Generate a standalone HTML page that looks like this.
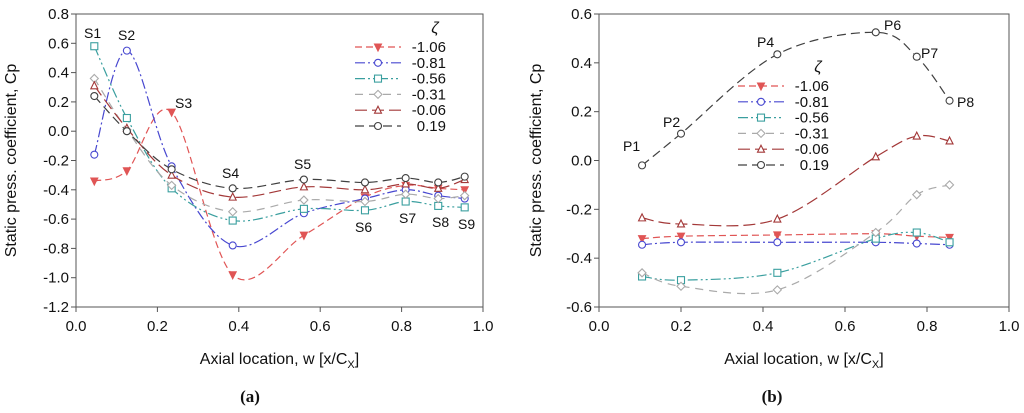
<!DOCTYPE html>
<html><head><meta charset="utf-8"><style>
body{margin:0;background:#fff;}
svg{display:block;font-family:"Liberation Sans",sans-serif;}
</style></head><body>
<svg id="s" width="1024" height="413" viewBox="0 0 1024 413"></svg>
<script>
const seriesNames=["-1.06","-0.81","-0.56","-0.31","-0.06","0.19"];
const colors=["#e05555","#4848d0","#3a9f9f","#aaaaaa","#a33838","#404040"];
const dashes=["7,4","10,3,2,3","10,3,2,3,2,3","8,6","12,5","9,5"];
const markers=["tri-down","circle","square","diamond","triangle","circle"];
const xA=[0.045,0.125,0.235,0.385,0.56,0.71,0.81,0.89,0.955];
const yA=[
[-0.34,-0.27,0.13,-0.98,-0.71,-0.45,-0.37,-0.39,-0.40],
[-0.16,0.55,-0.24,-0.78,-0.56,-0.46,-0.40,-0.44,-0.46],
[0.58,0.09,-0.39,-0.61,-0.53,-0.54,-0.48,-0.51,-0.52],
[0.36,0.01,-0.37,-0.55,-0.47,-0.48,-0.43,-0.46,-0.44],
[0.31,0.02,-0.30,-0.45,-0.38,-0.40,-0.36,-0.39,-0.33],
[0.24,0.00,-0.26,-0.39,-0.33,-0.35,-0.32,-0.35,-0.31]];
const xB=[0.105,0.2,0.435,0.675,0.775,0.855];
const yB=[
[-0.32,-0.31,-0.305,-0.30,-0.31,-0.315],
[-0.345,-0.335,-0.335,-0.335,-0.34,-0.345],
[-0.475,-0.49,-0.46,-0.32,-0.295,-0.335],
[-0.46,-0.515,-0.53,-0.295,-0.14,-0.10],
[-0.235,-0.26,-0.24,0.015,0.10,0.08],
[-0.02,0.11,0.435,0.525,0.425,0.245]];
const xTicks=["0.0","0.2","0.4","0.6","0.8","1.0"];
const yTicksA=["0.8","0.6","0.4","0.2","0.0","-0.2","-0.4","-0.6","-0.8","-1.0","-1.2"];
const yTicksB=["0.6","0.4","0.2","0.0","-0.2","-0.4","-0.6"];

const NS="http://www.w3.org/2000/svg";
const svg=document.getElementById('s');
function mk(t,a,p){const e=document.createElementNS(NS,t);for(const k in a)e.setAttribute(k,a[k]);(p||svg).appendChild(e);return e;}
function txt(x,y,s,o,p){const e=mk('text',Object.assign({x:x,y:y,'font-size':15,fill:'#111'},o||{}),p);e.textContent=s;return e;}
function spline(pts){let d=`M${pts[0][0]},${pts[0][1]}`;for(let i=0;i<pts.length-1;i++){const p0=pts[Math.max(0,i-1)],p1=pts[i],p2=pts[i+1],p3=pts[Math.min(pts.length-1,i+2)];d+=` C${p1[0]+(p2[0]-p0[0])/6},${p1[1]+(p2[1]-p0[1])/6} ${p2[0]-(p3[0]-p1[0])/6},${p2[1]-(p3[1]-p1[1])/6} ${p2[0]},${p2[1]}`;}return d;}
function marker(g,type,x,y,c){const r=3.5;const o={fill:'#fff',stroke:c,'stroke-width':1.1};let e;
 if(type==='circle')e=mk('circle',Object.assign({cx:x,cy:y,r:r},o),g);
 else if(type==='square')e=mk('rect',Object.assign({x:x-r,y:y-r,width:2*r,height:2*r},o),g);
 else if(type==='diamond')e=mk('polygon',Object.assign({points:`${x},${y-r-0.5} ${x+r+0.5},${y} ${x},${y+r+0.5} ${x-r-0.5},${y}`},o),g);
 else if(type==='triangle')e=mk('polygon',Object.assign({points:`${x},${y-r-0.5} ${x+r},${y+r-0.5} ${x-r},${y+r-0.5}`},o),g);
 else e=mk('polygon',Object.assign({points:`${x},${y+r+0.5} ${x+r},${y-r+0.5} ${x-r},${y-r+0.5}`},o,{fill:c}),g);
 
 }
function panel(name,x0,x1,y0,y1,ymax,ymin,yTicks,xs,ys,labels,legX,legY,ylx){
 const g=mk('g',{});
 
 
 const X=v=>x0+(x1-x0)*v, Y=v=>y0+(y1-y0)*(ymax-v)/(ymax-ymin);
 const fr=mk('rect',{x:x0,y:y0,width:x1-x0,height:y1-y0,fill:'none',stroke:'#555','stroke-width':1},g);
 
 
 xTicks.forEach(t=>{const v=parseFloat(t),x=X(v);mk('line',{x1:x,x2:x,y1:y1,y2:y1+5,stroke:'#555'},g);
  const e=txt(x,y1+24,t,{'text-anchor':'middle'},g);
  
  });
 yTicks.forEach(t=>{const v=parseFloat(t),y=Y(v);mk('line',{x1:x0-5,x2:x0,y1:y,y2:y,stroke:'#555'},g);
  const e=txt(x0-7,y+5,t,{'text-anchor':'end'},g);
  
  });
 const xt=txt((x0+x1)/2,364,'Axial location, w [x/C',{'text-anchor':'middle','font-size':16},g);
 const sub=document.createElementNS(NS,'tspan');sub.setAttribute('font-size',11);sub.setAttribute('dy',4);sub.textContent='X';xt.appendChild(sub);
 const sub2=document.createElementNS(NS,'tspan');sub2.setAttribute('dy',-4);sub2.textContent=']';xt.appendChild(sub2);
 
 
 const yt=txt(0,0,'Static press. coefficient, Cp',{'text-anchor':'middle','font-size':16,transform:`translate(${ylx},${(y0+y1)/2}) rotate(-90)`},g);
 
 
 ys.forEach((arr,i)=>{const pts=arr.map((v,j)=>[X(xs[j]),Y(v)]);
  const p=mk('path',{d:spline(pts),fill:'none',stroke:colors[i],'stroke-width':1.2,'stroke-dasharray':dashes[i]},g);
  
  
  pts.forEach(q=>marker(g,markers[i],q[0],q[1],colors[i]));});
 labels.forEach(l=>{const e=txt(l[0],l[1],l[2],{'font-size':14},g);
  
  });
 const z=txt(legX+80,legY-14,'ζ',{'font-size':16,'font-style':'italic','text-anchor':'middle'},g);
 
 
 seriesNames.forEach((n,i)=>{const y=legY+i*15.8;
  const le=mk('g',{},g);
  
  
  mk('line',{x1:legX,x2:legX+46,y1:y,y2:y,stroke:colors[i],'stroke-width':1.2,'stroke-dasharray':dashes[i]},le);
  marker(le,markers[i],legX+23,y,colors[i]);
  txt(legX+91,y+5,n,{'text-anchor':'end'},le);});
}
panel('chart-a',76,483,14,307,0.8,-1.2,yTicksA,xA,yA,
 [[84,38,'S1'],[118,40,'S2'],[175,108,'S3'],[222,178,'S4'],[294,169,'S5'],[355,232,'S6'],[399,223,'S7'],[432,227,'S8'],[458,229,'S9']],
 355,47,16);
panel('chart-b',599,1009,14,307,0.6,-0.6,yTicksB,xB,yB,
 [[623,151,'P1'],[663,127,'P2'],[757,47,'P4'],[884,30,'P6'],[921,58,'P7'],[957,107,'P8']],
 738,86,541);
const la=txt(250,402,'(a)',{'text-anchor':'middle','font-family':'"Liberation Serif",serif','font-size':17,'font-weight':'bold'});


const lb=txt(772,402,'(b)',{'text-anchor':'middle','font-family':'"Liberation Serif",serif','font-size':17,'font-weight':'bold'});


</script>
</body></html>
